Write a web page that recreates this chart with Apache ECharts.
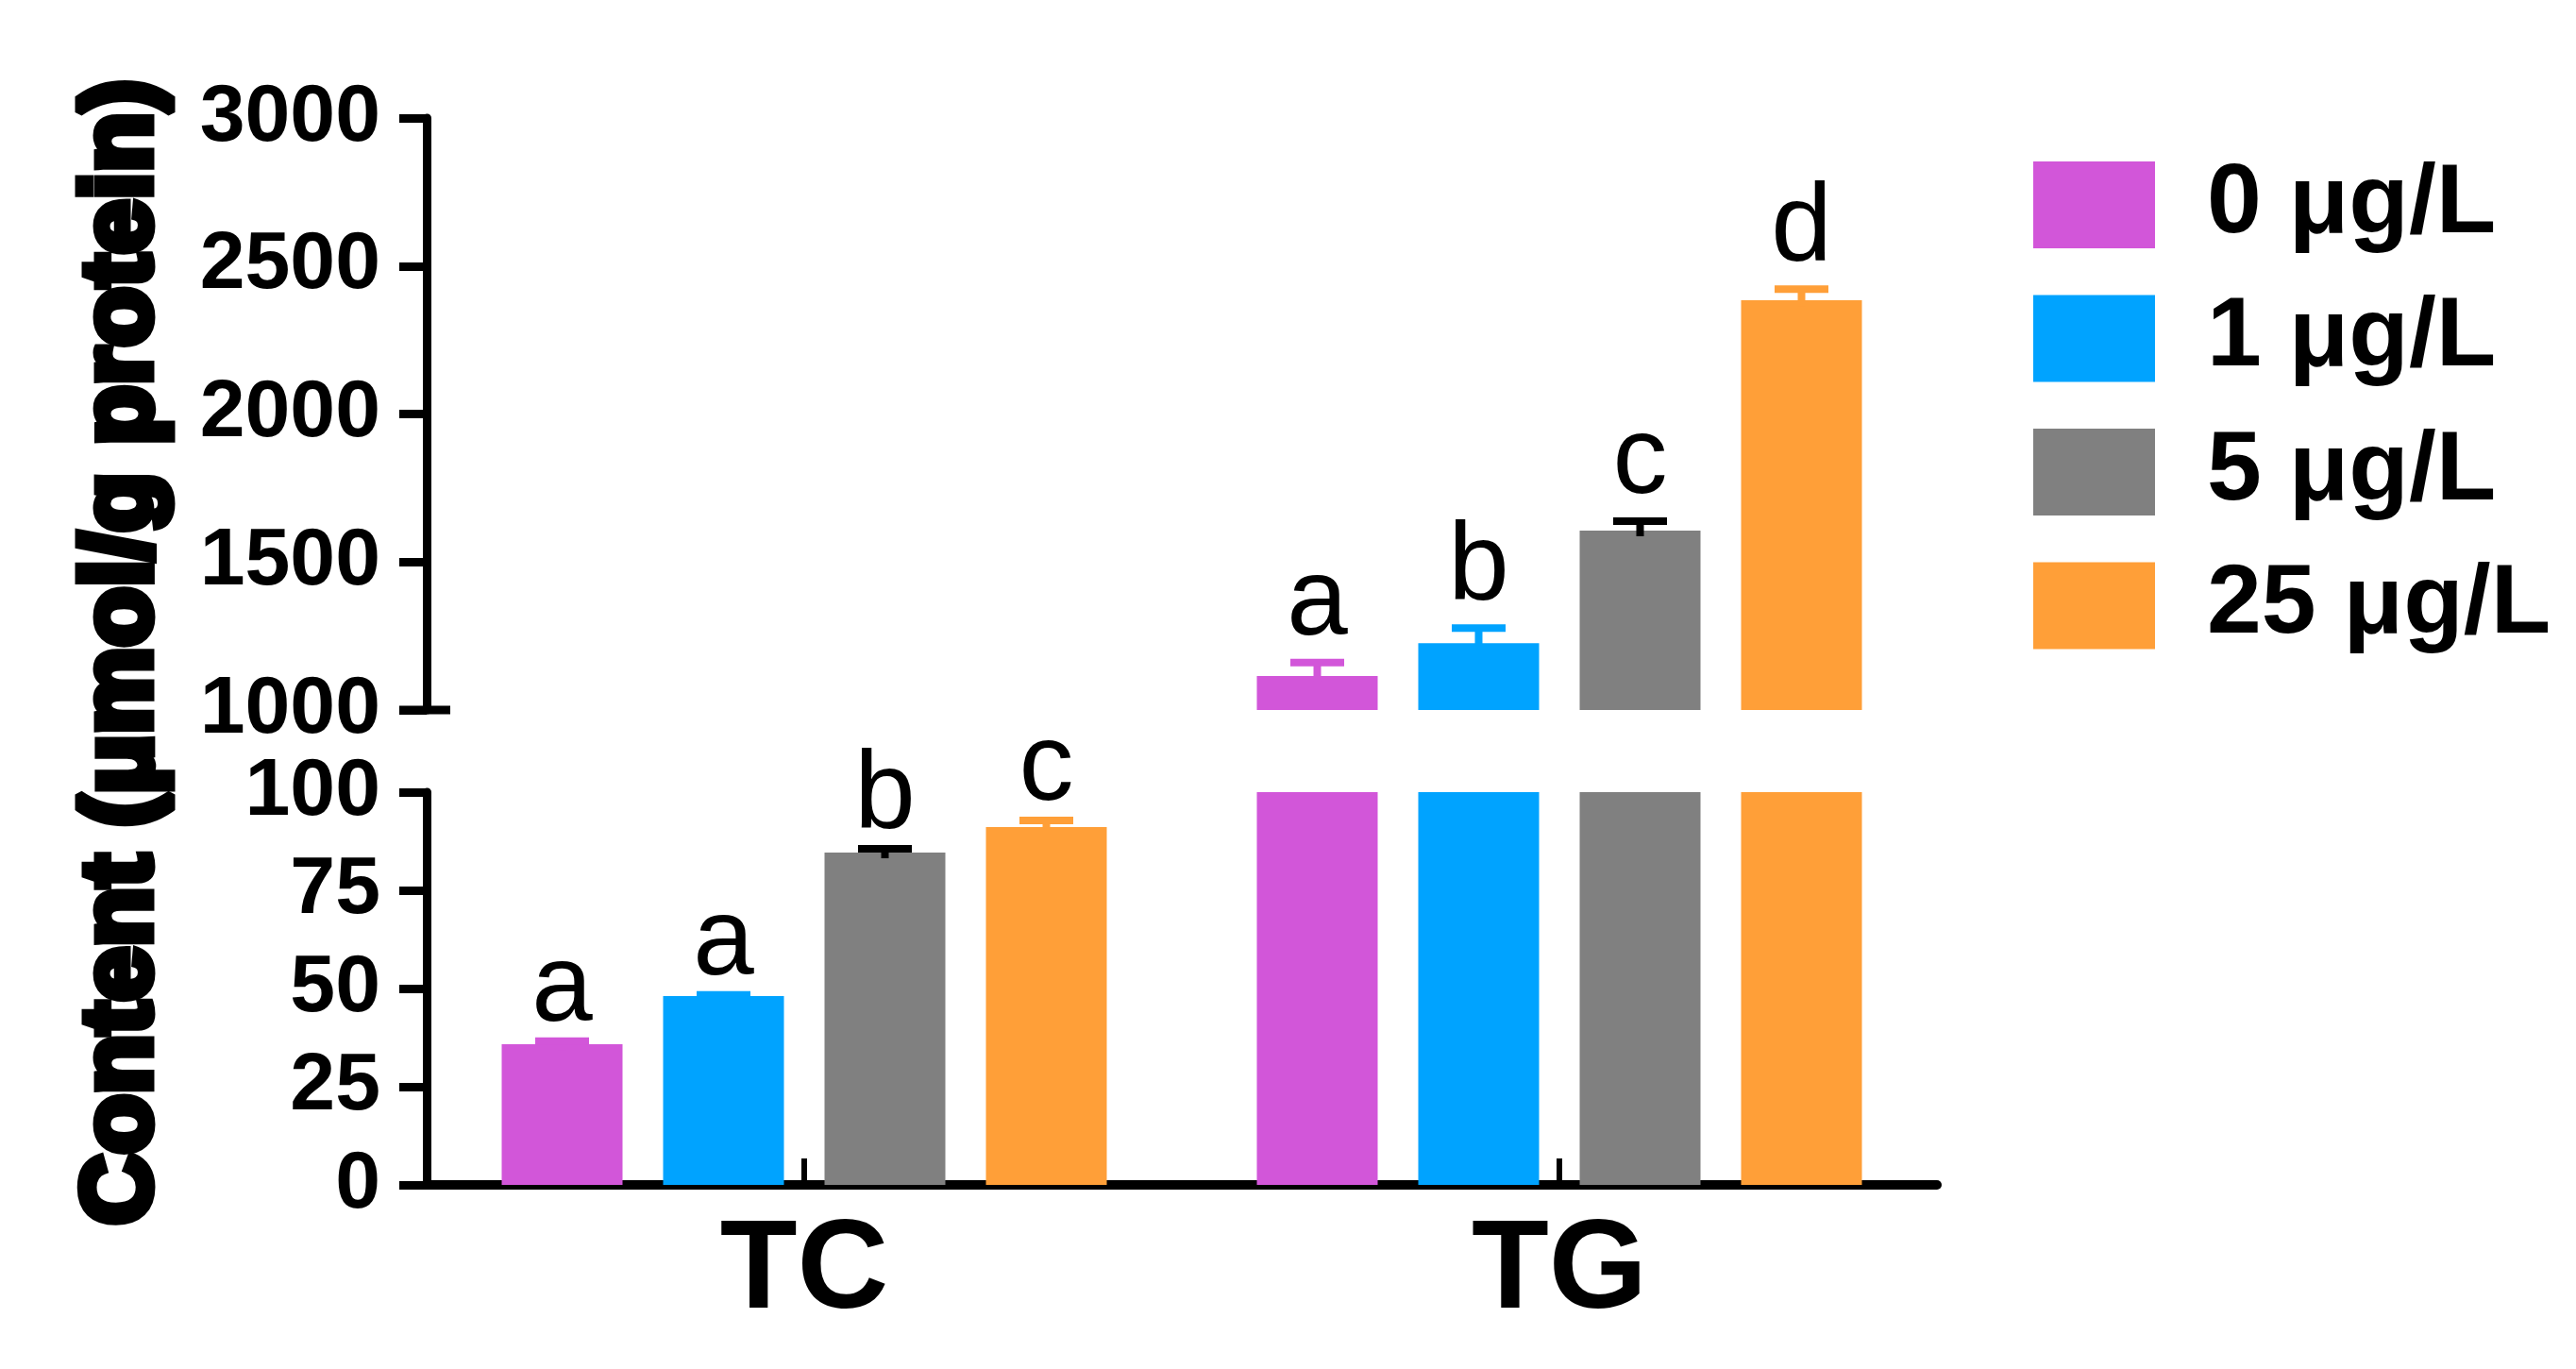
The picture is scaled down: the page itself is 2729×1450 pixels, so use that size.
<!DOCTYPE html>
<html>
<head>
<meta charset="utf-8">
<script src="https://cdn.jsdelivr.net/npm/echarts@6/dist/echarts.min.js"></script>
<style>
  html, body { margin: 0; padding: 0; background: #fff; }
  #main { width: 2729px; height: 1450px; }
</style>
</head>
<body>
<div id="main"></div>
<script>
// 数据
var categories = ["TC", "TG"];
var groups = ["0 μg/L", "1 μg/L", "5 μg/L", "25 μg/L"];
var colors = ["#d256d9", "#00a3ff", "#808080", "#ff9f38"];
var errColors = ["#d256d9", "#00a3ff", "#000000", "#ff9f38"];
var meanTC = [35.8, 48.1, 84.6, 91.1];
var sdTC = [0.8, 0.3, 1.0, 1.7];
var meanTG = [1115, 1226, 1606, 2384];
var sdTG = [45, 51, 32, 38];
var lettersTC = ["a", "a", "b", "c"];
var lettersTG = ["a", "b", "c", "d"];
var lowTicks = [0, 25, 50, 75, 100];
var highTicks = [1000, 1500, 2000, 2500, 3000];

// 布局
var FONT = "'Liberation Sans', Arial, sans-serif";
var gridLeft = 452;
var gridRight = 677;
var barW = 128;
var barGapPx = 43;
var capW = 57;
var errLW = 8;

var chart = echarts.init(document.getElementById("main"));

function errorSeries(gridIdx, means, sds, letters, catIdx, lift) {
  var data = [];
  for (var j = 0; j < means.length; j++) {
    data.push([catIdx, means[j], sds[j], j]);
  }
  return {
    type: "custom",
    xAxisIndex: gridIdx,
    yAxisIndex: gridIdx,
    clip: false,
    silent: true,
    z: 5,
    data: data,
    renderItem: function (params, api) {
      var j = api.value(3);
      var m = api.value(1);
      var s = api.value(2);
      var base = api.coord([api.value(0), m]);
      var top = api.coord([api.value(0), m + s]);
      var x = base[0] + (j - 1.5) * (barW + barGapPx);
      var c = errColors[j];
      var errTop = top[1] - errLW / 2;
      return {
        type: "group",
        children: [
          {
            type: "line",
            shape: { x1: x, y1: base[1] + 6, x2: x, y2: top[1] },
            style: { stroke: c, lineWidth: errLW }
          },
          {
            type: "line",
            shape: { x1: x - capW / 2, y1: top[1], x2: x + capW / 2, y2: top[1] },
            style: { stroke: c, lineWidth: errLW }
          },
          {
            type: "text",
            x: x,
            y: errTop - lift,
            style: {
              text: letters[j],
              fill: "#000",
              font: "116px " + FONT,
              textAlign: "center",
              textVerticalAlign: "bottom",
              align: "center",
              verticalAlign: "bottom"
            }
          }
        ]
      };
    }
  };
}

var series = [];
for (var j = 0; j < groups.length; j++) {
  // 下半段 0-100
  series.push({
    name: groups[j],
    type: "bar",
    xAxisIndex: 0,
    yAxisIndex: 0,
    barWidth: barW,
    barGap: (barGapPx / barW * 100) + "%",
    clip: true,
    itemStyle: { color: colors[j] },
    data: [meanTC[j], meanTG[j]]
  });
  // 上半段 1000-3000
  series.push({
    name: groups[j],
    type: "bar",
    xAxisIndex: 1,
    yAxisIndex: 1,
    barWidth: barW,
    barGap: (barGapPx / barW * 100) + "%",
    clip: true,
    itemStyle: { color: colors[j] },
    data: ["-", meanTG[j]]
  });
}
series.push(errorSeries(0, meanTC, sdTC, lettersTC, 0, -8));
series.push(errorSeries(1, meanTG, sdTG, lettersTG, 1, 0));

var axisLine = { show: true, lineStyle: { color: "#000", width: 9 } };
var yLabel = {
  color: "#000", fontSize: 86, fontWeight: "bold", fontFamily: FONT, margin: 49,
  formatter: function (v) { return String(v); }
};

var option = {
  animation: false,
  backgroundColor: "#fff",
  grid: [
    { left: gridLeft, right: gridRight, top: 839, height: 416 },
    { left: gridLeft, right: gridRight, top: 125, height: 627 }
  ],
  legend: {
    orient: "vertical",
    left: 2149,
    top: 160,
    itemWidth: 129,
    itemHeight: 92,
    itemGap: 37.5,
    icon: "rect",
    data: groups,
    textStyle: {
      color: "#000",
      fontSize: 104,
      fontWeight: "bold",
      fontFamily: FONT,
      lineHeight: 92,
      padding: [0, 0, 0, 50]
    }
  },
  xAxis: [
    {
      type: "category",
      gridIndex: 0,
      data: categories,
      axisLine: { show: true, lineStyle: { color: "#000", width: 10 } },
      axisTick: { show: true, alignWithLabel: true, inside: true, length: 28, lineStyle: { color: "#000", width: 6 } },
      axisLabel: { color: "#000", fontSize: 134, fontWeight: "bold", fontFamily: FONT, margin: 26 }
    },
    {
      type: "category",
      gridIndex: 1,
      data: categories,
      show: false
    }
  ],
  yAxis: [
    {
      type: "value",
      gridIndex: 0,
      min: 0,
      max: 100,
      interval: 25,
      splitLine: { show: false },
      axisLine: axisLine,
      axisTick: { show: true, length: 29, lineStyle: { color: "#000", width: 9 } },
      axisLabel: yLabel
    },
    {
      type: "value",
      gridIndex: 1,
      min: 1000,
      max: 3000,
      interval: 500,
      splitLine: { show: false },
      axisLine: axisLine,
      axisTick: { show: true, length: 29, lineStyle: { color: "#000", width: 9 } },
      axisLabel: yLabel
    }
  ],
  graphic: [
    {
      type: "text",
      x: 130,
      y: 691,
      rotation: Math.PI / 2,
      style: {
        text: "Content (μmol/g protein)",
        fill: "#000",
        font: "bold 104px " + FONT,
        textAlign: "center",
        textVerticalAlign: "middle",
        align: "center",
        verticalAlign: "middle"
      }
    }
  ],
  series: series
};
chart.setOption(option);

// 断轴处的小短线（向右伸出）
var yBreakLow = chart.convertToPixel({ yAxisIndex: 0 }, 100);
var yBreakHigh = chart.convertToPixel({ yAxisIndex: 1 }, 1000);
chart.setOption({
  graphic: [
    {
      type: "line",
      shape: { x1: gridLeft - 29, y1: yBreakLow, x2: gridLeft + 25, y2: yBreakLow },
      style: { stroke: "#000", lineWidth: 9 }
    },
    {
      type: "line",
      shape: { x1: gridLeft - 29, y1: yBreakHigh, x2: gridLeft + 25, y2: yBreakHigh },
      style: { stroke: "#000", lineWidth: 9 }
    }
  ]
});
</script>
</body>
</html>
